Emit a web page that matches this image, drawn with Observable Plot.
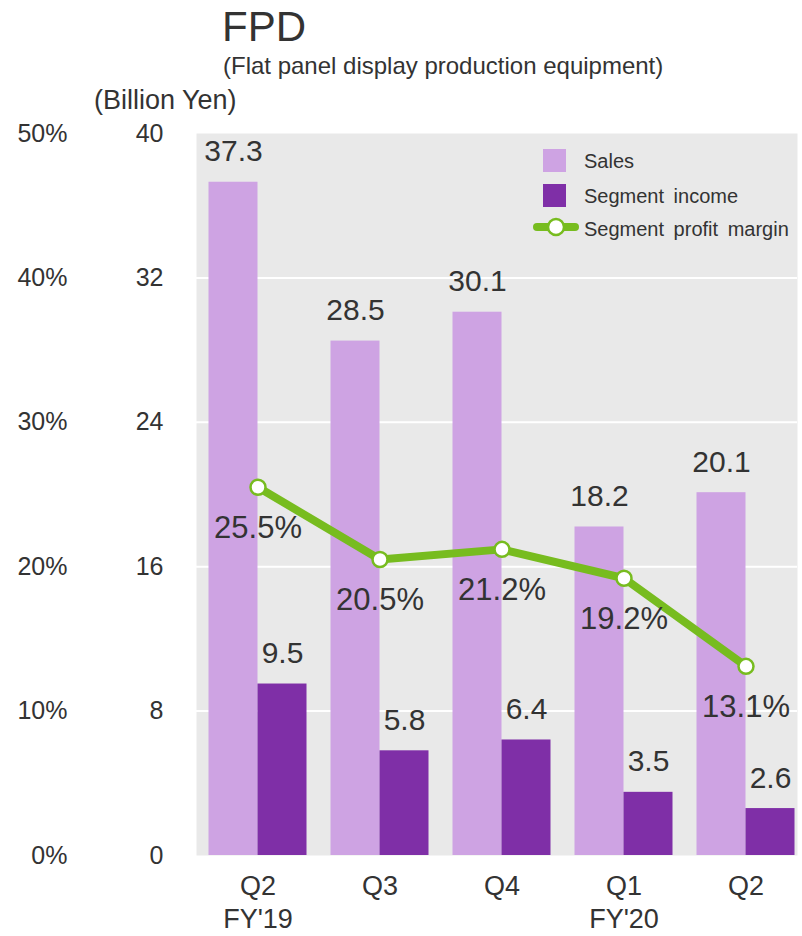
<!DOCTYPE html>
<html>
<head>
<meta charset="utf-8">
<script src="https://cdn.jsdelivr.net/npm/d3@7"></script>
<script src="https://cdn.jsdelivr.net/npm/@observablehq/plot@0.6"></script>
<style>
  html, body { margin: 0; padding: 0; background: #fff; }
  #wrap { position: relative; width: 802px; height: 936px; font-family: "Liberation Sans", Arial, sans-serif; color: #333; }
  #wrap svg { position: absolute; left: 0; top: 0; }
  .t { position: absolute; white-space: nowrap; line-height: 1; }
  #legend { position: absolute; left: 530px; top: 146px; font-size: 20px; }
  .li { position: absolute; white-space: nowrap; }
  .sw { position: absolute; width: 23px; height: 23px; }
</style>
</head>
<body>
<div id="wrap">
  <div class="t" style="left:222px; top:6px; font-size:42px;">FPD</div>
  <div class="t" style="left:223px; top:54px; font-size:24px;">(Flat panel display production equipment)</div>
  <div class="t" style="left:94px; top:87px; font-size:27px;">(Billion Yen)</div>
</div>
<script>
const quarters = ["Q2\nFY'19", "Q3", "Q4", "Q1\nFY'20", "Q2"];
const sales = [37.3, 28.5, 30.1, 18.2, 20.1];
const income = [9.5, 5.8, 6.4, 3.5, 2.6];
const margin = [25.5, 20.5, 21.2, 19.2, 13.1];
const yTicks = [0, 8, 16, 24, 32, 40];
const seriesNames = ["Sales", "Segment income", "Segment profit margin"];
const colors = { sales: "#cea3e3", income: "#7f2fa7", line: "#77bc1f", bg: "#e9e9e9" };

const data = quarters.map((q, i) => ({ q, sales: sales[i], income: income[i], margin: margin[i] }));
const pctToY = 40 / 50; // 50% aligns with 40 on the value axis

const chart = Plot.plot({
  width: 802,
  height: 936,
  marginTop: 133,
  marginBottom: 81,
  marginLeft: 196,
  marginRight: 5,
  style: { fontFamily: "Liberation Sans, Arial, sans-serif", color: "#333", background: "transparent", overflow: "visible" },
  x: { domain: quarters, range: [195.5, 808], paddingInner: 0.6, paddingOuter: 0.3, label: null },
  y: { domain: [0, 40], label: null },
  marks: [
    Plot.frame({ fill: colors.bg, stroke: null }),
    Plot.gridY({ ticks: yTicks.filter(t => t > 0 && t < 40), stroke: "#fff", strokeOpacity: 1, strokeWidth: 2 }),
    Plot.barY(data, { x: "q", y: "sales", fill: colors.sales, dx: -24.5, insetLeft: 0, insetRight: 0 }),
    Plot.barY(data, { x: "q", y: "income", fill: colors.income, dx: 24.5, insetLeft: 0, insetRight: 0 }),
    Plot.text(data, { x: "q", y: "sales", text: d => d.sales.toFixed(1), dx: -24.5, dy: -21, lineAnchor: "bottom", fontSize: 30, fill: "#333" }),
    Plot.text(data, { x: "q", y: "income", text: d => d.income.toFixed(1), dx: 24.5, dy: -21, lineAnchor: "bottom", fontSize: 30, fill: "#333" }),
    Plot.line(data, { x: "q", y: d => d.margin * pctToY, stroke: colors.line, strokeWidth: 8 }),
    Plot.dot(data, { x: "q", y: d => d.margin * pctToY, r: 7.5, fill: "#fff", stroke: colors.line, strokeWidth: 2.5 }),
    Plot.text(data, { x: "q", y: d => d.margin * pctToY, text: d => d.margin.toFixed(1) + "%", dy: 51, lineAnchor: "bottom", fontSize: 31, fill: "#333" }),
    Plot.axisY({ ticks: yTicks, tickSize: 0, tickPadding: 33, fontSize: 25, label: null, tickFormat: d => String(d) }),
    Plot.axisY({ ticks: yTicks, tickSize: 0, tickPadding: 129, fontSize: 25, label: null, tickFormat: d => String(Math.round(d / pctToY)) + "%" }),
    Plot.axisX({ tickSize: 0, tickPadding: 16, fontSize: 27, lineHeight: 1.22, label: null, tickFormat: d => d })
  ]
});

const wrap = document.getElementById("wrap");
wrap.insertBefore(chart, wrap.firstChild);

// Legend (HTML overlay)
const legend = document.createElement("div");
legend.id = "legend";
legend.innerHTML = `
  <div class="sw" style="left:13px; top:3px; background:${colors.sales}"></div>
  <div class="li" style="left:54px; top:4px;">${seriesNames[0]}</div>
  <div class="sw" style="left:13px; top:38px; background:${colors.income}"></div>
  <div class="li" style="left:54px; top:39px; word-spacing:4px;">${seriesNames[1]}</div>
  <svg width="46" height="24" style="position:absolute; left:3px; top:69px; overflow:visible">
    <line x1="4" y1="12" x2="42" y2="12" stroke="${colors.line}" stroke-width="8" stroke-linecap="round"/>
    <circle cx="23" cy="12" r="8" fill="#fff" stroke="${colors.line}" stroke-width="2.5"/>
  </svg>
  <div class="li" style="left:54px; top:72px; word-spacing:4px;">${seriesNames[2]}</div>
`;
wrap.appendChild(legend);
</script>
</body>
</html>
